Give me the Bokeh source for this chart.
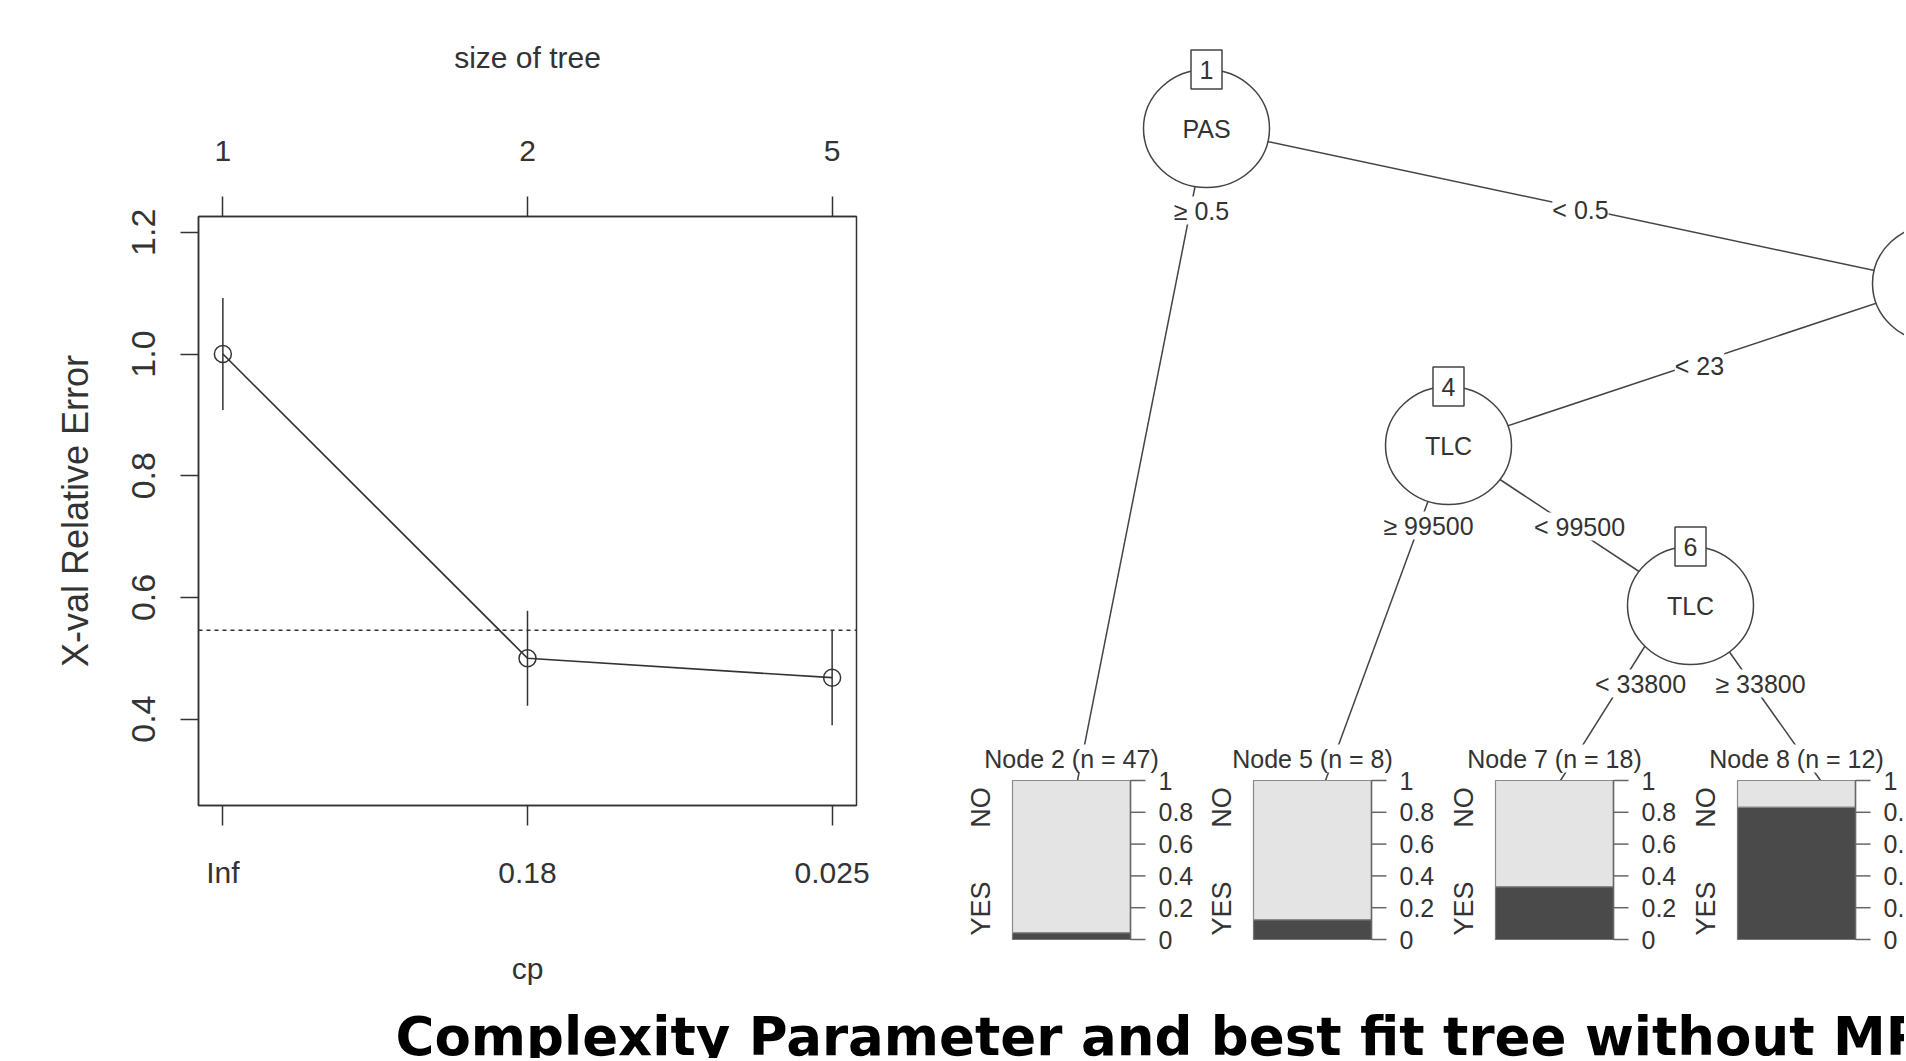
import math
from bokeh.plotting import figure
from bokeh.models import Range1d, LinearAxis, FixedTicker, PrintfTickFormatter, Span
from bokeh.layouts import row, column
from bokeh.embed import file_html
from bokeh.resources import INLINE
from bokeh.core.properties import value

# ---------------- data: complexity-parameter plot ----------------
cp_labels = ["Inf", "0.18", "0.025"]
tree_sizes = ["1", "2", "5"]
xerror = [1.0, 0.50, 0.468]
xstd = [0.092, 0.078, 0.078]
cp_threshold = 0.546
y_ticks = [0.4, 0.6, 0.8, 1.0, 1.2]

# ---------------- data: fitted tree ----------------
inner_ids = [1, 4, 6]
inner_vars = ["PAS", "TLC", "TLC"]
edge_labels = ["\u2265 0.5", "< 0.5", "< 23", "\u2265 99500", "< 99500", "< 33800", "\u2265 33800"]
term_ids = [2, 5, 7, 8]
term_n = [47, 8, 18, 12]
term_yes = [0.043, 0.125, 0.333, 0.833]
class_names = ["YES", "NO"]
prop_ticks = [0, 0.2, 0.4, 0.6, 0.8, 1]
prop_tick_labels = ["0", "0.2", "0.4", "0.6", "0.8", "1"]

TITLE = "Complexity Parameter and best fit tree without MP"

FONT = "Liberation Sans"
INK = "#333333"

# page geometry (pixels from the top-left of the page)
PAGE_W, ROW_H, PAGE_H = 1904, 990, 1058
LEFT_W = 930

# ======================= left: cp plot =======================
xpos = list(range(1, len(cp_labels) + 1))
left = figure(width=LEFT_W, height=ROW_H, x_range=Range1d(0.92, 3.08), y_range=Range1d(0.258, 1.226),
              output_backend="svg", toolbar_location=None,
              min_border_left=198, min_border_right=LEFT_W - 856,
              min_border_top=216, min_border_bottom=ROW_H - 805)
left.grid.visible = False
left.outline_line_color = INK
left.outline_line_width = 1.5
left.background_fill_color = "white"
left.border_fill_color = "white"


def style_axis(ax, tick_size, label_size, tick_out, lab_standoff, ax_standoff):
    ax.axis_line_color = INK
    ax.axis_line_width = 1.5
    ax.major_tick_line_color = INK
    ax.major_tick_line_width = 1.5
    ax.major_tick_in = 0
    ax.major_tick_out = tick_out
    ax.minor_tick_line_color = None
    ax.major_label_text_font = FONT
    ax.major_label_text_font_size = tick_size
    ax.major_label_text_color = INK
    ax.major_label_standoff = lab_standoff
    ax.axis_label_text_font = FONT
    ax.axis_label_text_font_size = label_size
    ax.axis_label_text_font_style = "normal"
    ax.axis_label_text_color = INK
    ax.axis_label_standoff = ax_standoff


xa = left.xaxis[0]
xa.ticker = FixedTicker(ticks=xpos)
xa.major_label_overrides = {i: s for i, s in zip(xpos, cp_labels)}
xa.axis_label = "cp"
style_axis(xa, "30px", "30px", 20, 30, 60)

top = LinearAxis(ticker=FixedTicker(ticks=xpos),
                 major_label_overrides={i: s for i, s in zip(xpos, tree_sizes)},
                 axis_label="size of tree")
style_axis(top, "30px", "30px", 20, 36, 64)
left.add_layout(top, "above")

ya = left.yaxis[0]
ya.ticker = FixedTicker(ticks=y_ticks)
ya.formatter = PrintfTickFormatter(format="%.1f")
ya.axis_label = "X-val Relative Error"
ya.major_label_orientation = "vertical"
style_axis(ya, "34px", "36px", 18, 25, 34)

lo = [e - s for e, s in zip(xerror, xstd)]
hi = [e + s for e, s in zip(xerror, xstd)]
left.segment(x0=xpos, y0=lo, x1=xpos, y1=hi, line_color=INK, line_width=1.5)
left.line(xpos, xerror, line_color=INK, line_width=1.7)
left.scatter(xpos, xerror, marker="circle", size=17, fill_color=None, line_color=INK, line_width=1.5)
left.add_layout(Span(location=cp_threshold, dimension="width", line_color=INK,
                     line_width=1.5, line_dash="4 4"))

# ======================= right: tree =======================
FIG_L, FIG_R, FIG_T, FIG_B = LEFT_W, PAGE_W, 0, ROW_H
tree = figure(width=FIG_R - FIG_L, height=FIG_B - FIG_T,
              x_range=Range1d(FIG_L, FIG_R), y_range=Range1d(FIG_B, FIG_T),
              output_backend="svg", toolbar_location=None,
              x_axis_location=None, y_axis_location=None, min_border=0)
tree.outline_line_color = None
tree.xgrid.visible = False
tree.ygrid.visible = False

# layout of nodes (page pixel positions)
node_pos = {1: (1206, 128), 3: (1935, 283), 4: (1448, 445), 6: (1690, 605)}
NODE_W, NODE_H = 126, 118
PANEL_T, PANEL_B = 780, 939
PANEL_W = 118
panel_left = [1012, 1253, 1495, 1737]
panel_cx = [x + PANEL_W / 2 for x in panel_left]

edges = [  # (start, end, label position)
    ((1206, 128), (1077, 780), (1201, 210)),
    ((1206, 128), (1935, 283), (1580, 209)),
    ((1935, 283), (1448, 445), (1699, 365)),
    ((1448, 445), (1325, 780), (1428, 525)),
    ((1448, 445), (1690, 605), (1579, 526)),
    ((1670, 605), (1560, 780), (1640, 683)),
    ((1696, 605), (1820, 780), (1760, 683)),
]
tree.segment(x0=[e[0][0] for e in edges], y0=[e[0][1] for e in edges],
             x1=[e[1][0] for e in edges], y1=[e[1][1] for e in edges],
             line_color="#444444", line_width=1.5)

tree.ellipse(x=[p[0] for p in node_pos.values()], y=[p[1] for p in node_pos.values()],
             width=NODE_W, height=NODE_H, fill_color="white", line_color="#444444", line_width=1.5)

ix = [node_pos[i][0] for i in inner_ids]
iy = [node_pos[i][1] for i in inner_ids]
tree.rect(x=ix, y=[y - NODE_H / 2 for y in iy], width=31, height=39,
          fill_color="white", line_color="#444444", line_width=1.5)
txt = dict(text_font=value(FONT), text_font_size="25px", text_color=INK)
tree.text(x=ix, y=[y - NODE_H / 2 for y in iy], text=[str(i) for i in inner_ids],
          text_align="center", text_baseline="middle", **txt)
tree.text(x=ix, y=iy, text=inner_vars, text_align="center", text_baseline="middle", **txt)

tree.text(x=[e[2][0] for e in edges], y=[e[2][1] for e in edges], text=edge_labels,
          text_align="center", text_baseline="middle", background_fill_color="white", **txt)

# terminal panels on a proportion scale
span = PANEL_B - PANEL_T
tree.extra_y_ranges = {"prop": Range1d((PANEL_B - FIG_B) / span, (PANEL_B - FIG_T) / span)}

tree.vbar(x=panel_cx, width=PANEL_W, bottom=0, top=term_yes, y_range_name="prop",
          fill_color="#4a4a4a", line_color="#777777", line_width=1.2)
tree.vbar(x=panel_cx, width=PANEL_W, bottom=term_yes, top=[1] * len(term_yes), y_range_name="prop",
          fill_color="#e4e4e4", line_color="#8a8a8a", line_width=1.2)

rights = [x + PANEL_W for x in panel_left]
tree.segment(x0=rights, y0=[0] * 4, x1=rights, y1=[1] * 4, y_range_name="prop",
             line_color="#666666", line_width=1.5)
tx0, tx1, ty, lx, ly, lt = [], [], [], [], [], []
for r in rights:
    for t, lab in zip(prop_ticks, prop_tick_labels):
        tx0.append(r); tx1.append(r + 15); ty.append(t)
        lx.append(r + 28); ly.append(t); lt.append(lab)
tree.segment(x0=tx0, y0=ty, x1=tx1, y1=ty, y_range_name="prop", line_color="#666666", line_width=1.5)
tree.text(x=lx, y=ly, text=lt, y_range_name="prop", text_align="left", text_baseline="middle", **txt)

cls_pos = {"YES": 0.195, "NO": 0.83}
cx, cy, ct = [], [], []
for x in panel_left:
    for c in class_names:
        cx.append(x - 32); cy.append(cls_pos[c]); ct.append(c)
tree.text(x=cx, y=cy, text=ct, y_range_name="prop", angle=math.pi / 2,
          text_align="center", text_baseline="middle",
          text_font=value(FONT), text_font_size="27px", text_color=INK)

tree.text(x=panel_cx, y=[758] * 4,
          text=[f"Node {i} (n = {n})" for i, n in zip(term_ids, term_n)],
          text_align="center", text_baseline="middle", background_fill_color="white", **txt)

# ======================= title strip =======================
title_fig = figure(width=PAGE_W, height=PAGE_H - ROW_H, x_range=Range1d(0, PAGE_W),
                   y_range=Range1d(PAGE_H, ROW_H),
                   output_backend="svg", toolbar_location=None,
                   x_axis_location=None, y_axis_location=None, min_border=0)
title_fig.outline_line_color = None
title_fig.xgrid.visible = False
title_fig.ygrid.visible = False
title_fig.text(x=[395], y=[1036], text=[TITLE], text_font=value("DejaVu Sans"),
               text_font_style="bold", text_font_size="53px", text_color="black",
               text_align="left", text_baseline="alphabetic")

layout = column(row(column(left), column(tree)), column(title_fig))
open("out.html", "w").write(file_html(layout, INLINE))
